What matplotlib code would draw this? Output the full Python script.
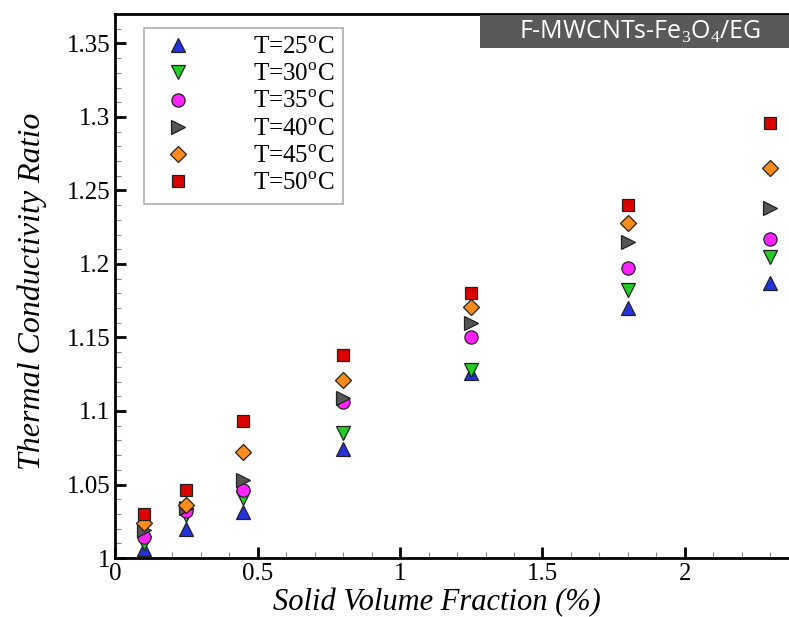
import matplotlib.pyplot as plt
from matplotlib.patches import Rectangle
from matplotlib.ticker import MultipleLocator

# solid volume fraction (%) and thermal conductivity ratio per temperature
phi = [0.1, 0.25, 0.45, 0.8, 1.25, 1.8, 2.3]
k_25 = [1.006, 1.020, 1.031, 1.074, 1.126, 1.170, 1.187]
k_30 = [1.010, 1.029, 1.041, 1.085, 1.128, 1.182, 1.205]
k_35 = [1.014, 1.032, 1.046, 1.106, 1.150, 1.197, 1.217]
k_40 = [1.019, 1.034, 1.053, 1.109, 1.160, 1.215, 1.238]
k_45 = [1.024, 1.036, 1.072, 1.121, 1.171, 1.228, 1.265]
k_50 = [1.030, 1.046, 1.093, 1.138, 1.180, 1.240, 1.296]
labels = ["T=25$^{\\mathrm{o}}$C", "T=30$^{\\mathrm{o}}$C", "T=35$^{\\mathrm{o}}$C",
          "T=40$^{\\mathrm{o}}$C", "T=45$^{\\mathrm{o}}$C", "T=50$^{\\mathrm{o}}$C"]

plt.rcParams['font.family'] = ['Liberation Serif', 'DejaVu Serif']
plt.rcParams['mathtext.fontset'] = 'custom'
plt.rcParams['mathtext.rm'] = 'Liberation Serif'

fig = plt.figure(figsize=(7.89, 6.17), dpi=100)
ax = fig.add_axes([0.1458, 0.0956, 0.8542, 0.8817])

series = [k_25, k_30, k_35, k_40, k_45, k_50]
markers = ['^', 'v', 'o', '>', 'D', 's']
colors = ['#2233dd', '#22cc22', '#ff22ff', '#555555', '#ff8c1a', '#dd0000']
sizes = [10, 10, 9.5, 10, 8, 8.5]
for ys, m, c, s, lab in zip(series, markers, colors, sizes, labels):
    ax.plot(phi, ys, linestyle='none', marker=m, markersize=s, color=c,
            markeredgecolor='#222222', markeredgewidth=0.9, label=lab)

ax.set_xlim(0, 2.365)
ax.set_ylim(1, 1.37)
ax.xaxis.set_minor_locator(MultipleLocator(0.1))
ax.yaxis.set_minor_locator(MultipleLocator(0.01))
ax.set_xticks([0, 0.5, 1, 1.5, 2])
ax.set_xticklabels(['0', '0.5', '1', '1.5', '2'])
ax.set_yticks([1, 1.05, 1.1, 1.15, 1.2, 1.25, 1.3, 1.35])
ax.set_yticklabels(['1', '1.05', '1.1', '1.15', '1.2', '1.25', '1.3', '1.35'])
ax.tick_params(which='major', direction='in', length=8, width=2, labelsize=18)
ax.tick_params(which='minor', direction='in', length=4, width=0.8, color='#888888')
for side in ['left', 'bottom', 'top']:
    ax.spines[side].set_linewidth(2)
ax.spines['right'].set_visible(False)

ax.set_xlabel("Solid Volume Fraction (%)", fontsize=22, style='italic')
ax.xaxis.set_label_coords(0.478, -0.055)
ax.set_ylabel("Thermal Conductivity Ratio", fontsize=23, style='italic')
ax.yaxis.set_label_coords(-0.101, 0.49)

leg = ax.legend(loc='upper left', bbox_to_anchor=(0.043, 0.975), fontsize=18,
                frameon=True, fancybox=False, edgecolor='#999999',
                handletextpad=2.0, labelspacing=0.19, borderpad=0.35,
                borderaxespad=0)
leg.get_frame().set_linewidth(1.2)

# sample name banner
fig.patches.append(Rectangle((480 / 789, 1 - 48 / 617), 309 / 789, 33 / 617,
                             transform=fig.transFigure, facecolor='#595959',
                             edgecolor='none', zorder=5))
fig.text(640 / 789, 1 - 31.5 / 617, "F-MWCNTs-Fe$_3$O$_4$/EG", color='white', fontsize=18,
         family='Open Sans', ha='center', va='center', zorder=6)

fig.savefig('out.png', dpi=100)
